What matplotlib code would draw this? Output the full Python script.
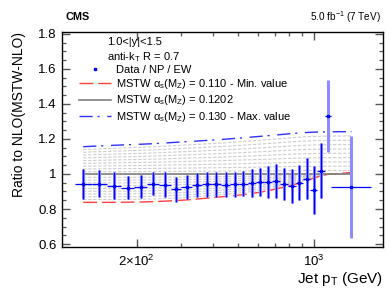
import numpy as np
import matplotlib.pyplot as plt
from matplotlib.lines import Line2D
from matplotlib.ticker import FixedLocator, NullFormatter, FixedFormatter

plt.rcParams['font.family'] = ['Liberation Sans', 'DejaVu Sans']
plt.rcParams['mathtext.fontset'] = 'custom'
plt.rcParams['mathtext.rm'] = 'Liberation Sans'
plt.rcParams['mathtext.it'] = 'Liberation Sans:italic'
plt.rcParams['mathtext.bf'] = 'Liberation Sans:bold'

# jet pT bin edges (GeV)
edges = [114, 133, 153, 174, 196, 220, 245, 272, 300, 330, 362, 395, 430, 468,
         507, 548, 592, 638, 686, 737, 790, 846, 905, 967, 1032, 1101, 1172, 1684]

# data / NP / EW ratio and uncertainties
ratio = [0.945, 0.945, 0.933, 0.922, 0.928, 0.945, 0.939, 0.912, 0.926, 0.935,
         0.941, 0.941, 0.939, 0.941, 0.945, 0.949, 0.952, 0.954, 0.960, 0.943,
         0.931, 0.950, 0.973, 0.909, 1.019, 1.331, 0.926]
err_tot = [0.086, 0.079, 0.077, 0.066, 0.064, 0.067, 0.070, 0.070, 0.067, 0.069,
           0.070, 0.070, 0.070, 0.070, 0.073, 0.078, 0.080, 0.090, 0.095, 0.090,
           0.095, 0.100, 0.118, 0.137, 0.157, 0.205, 0.290]
err_stat = [0.086, 0.079, 0.077, 0.066, 0.064, 0.067, 0.070, 0.070, 0.067, 0.069,
            0.070, 0.070, 0.070, 0.070, 0.073, 0.078, 0.080, 0.090, 0.095, 0.090,
            0.095, 0.100, 0.118, 0.137, 0.157, 0.0, 0.0]

# theory ratios to MSTW central (alpha_s = 0.1202)
th_min = [0.838, 0.838, 0.838, 0.839, 0.840, 0.842, 0.845, 0.848, 0.852, 0.857,
          0.862, 0.867, 0.872, 0.877, 0.882, 0.889, 0.896, 0.905, 0.915, 0.925,
          0.936, 0.948, 0.962, 0.976, 0.990, 0.998, 1.008]
th_max = [1.156, 1.160, 1.164, 1.167, 1.170, 1.173, 1.177, 1.181, 1.185, 1.188,
          1.192, 1.195, 1.199, 1.203, 1.207, 1.211, 1.215, 1.219, 1.223, 1.227,
          1.231, 1.234, 1.237, 1.239, 1.240, 1.241, 1.242]
alpha_min, alpha_cen, alpha_max = 0.110, 0.1202, 0.130
alpha_scan = [0.111, 0.112, 0.113, 0.114, 0.115, 0.116, 0.117, 0.118, 0.119, 0.120,
              0.121, 0.122, 0.123, 0.124, 0.125, 0.126, 0.127, 0.128, 0.129]

edges = np.array(edges, dtype=float)
centers = np.sqrt(edges[:-1] * edges[1:])
ratio = np.array(ratio)
th_min = np.array(th_min)
th_max = np.array(th_max)
xerr = [centers - edges[:-1], edges[1:] - centers]

fig = plt.figure(figsize=(3.9, 3.02), dpi=100)
ax = fig.add_axes([62 / 390, 55 / 302, 321 / 390, 215 / 302])

# intermediate alpha_s curves
for a in alpha_scan:
    if a < alpha_cen:
        y = th_min + (1 - th_min) * (a - alpha_min) / (alpha_cen - alpha_min)
    else:
        y = 1 + (th_max - 1) * (a - alpha_cen) / (alpha_max - alpha_cen)
    ax.plot(centers, y, color='#cccccc', lw=0.8, dashes=(3, 1.5), zorder=1)

ax.plot(centers, th_min, color='#ff4040', lw=1.0, dashes=(10, 3.5), zorder=2)
ax.plot(centers, np.ones_like(centers), color='#808080', lw=1.2, zorder=2)
ax.plot(centers, th_max, color='#3030ff', lw=1.0, dashes=(9.5, 3.5, 1.5, 5.5), zorder=2)

# data
ax.errorbar(centers, ratio, yerr=err_tot, fmt='none', ecolor='#8c8cff',
            elinewidth=2.2, capsize=0, zorder=3)
ax.errorbar(centers, ratio, yerr=err_stat, xerr=xerr, fmt='s', color='#0000ff',
            ms=1.6, elinewidth=0.9, capsize=0, zorder=4)

ax.set_xscale('log')
ax.set_xlim(101.6, 1871)
ax.set_ylim(0.583, 1.811)

ax.xaxis.set_major_locator(FixedLocator([200, 1000]))
ax.xaxis.set_major_formatter(FixedFormatter([r'$2{\times}10^{2}$', r'$10^{3}$']))
ax.xaxis.set_minor_locator(FixedLocator([300, 400, 500, 600, 700, 800, 900]))
ax.xaxis.set_minor_formatter(NullFormatter())
ax.set_yticks([0.6, 0.8, 1.0, 1.2, 1.4, 1.6, 1.8])
ax.set_yticklabels(['0.6', '0.8', '1', '1.2', '1.4', '1.6', '1.8'])
ax.yaxis.set_minor_locator(FixedLocator(np.arange(0.6, 1.81, 0.05)))

ax.tick_params(which='both', direction='in', top=True, right=True, color='#555555')
ax.tick_params(which='major', length=6, width=1.0, labelsize=9.5, pad=4)
ax.tick_params(which='minor', length=3, width=0.9)
ax.tick_params(axis='x', which='major', pad=5)
for s in ax.spines.values():
    s.set_linewidth(1.0)

ax.set_ylabel('Ratio to NLO(MSTW-NLO)', fontsize=10, loc='top')
ax.yaxis.set_label_coords(-0.112, 1.0)
ax.set_xlabel(r'Jet p$_{\mathrm{T}}$ (GeV)', fontsize=11, loc='right')
ax.xaxis.set_label_coords(1.0, -0.105)

fig.text(65 / 390, 1 - 17 / 302, 'CMS', fontsize=7.8, weight='bold', va='center')
fig.text(381 / 390, 1 - 17 / 302, r'5.0 fb$^{-1}$ (7 TeV)', fontsize=7.2,
         va='center', ha='right')

ax.text(107 / 390, 1 - 42 / 302, '1.0<|y|<1.5', transform=fig.transFigure,
        fontsize=8, va='center')
ax.text(107 / 390, 1 - 57 / 302, r'anti-k$_{\mathrm{T}}$ R = 0.7',
        transform=fig.transFigure, fontsize=8, va='center')

handles = [
    Line2D([], [], ls='none', marker='s', ms=1.6, color='#0000ff'),
    Line2D([], [], color='#ff4040', lw=1.0, dashes=(10, 3.5)),
    Line2D([], [], color='#808080', lw=1.2),
    Line2D([], [], color='#3030ff', lw=1.0, dashes=(9.5, 3.5, 1.5, 5.5)),
]
labels = ['Data / NP / EW',
          r'MSTW α$_{\mathrm{s}}$(M$_{\mathrm{Z}}$) = 0.110 - Min. value',
          r'MSTW α$_{\mathrm{s}}$(M$_{\mathrm{Z}}$) = 0.1202',
          r'MSTW α$_{\mathrm{s}}$(M$_{\mathrm{Z}}$) = 0.130 - Max. value']
fig.legend(handles, labels, loc='upper left', bbox_to_anchor=(79 / 390, 1 - 65 / 302),
           frameon=False, fontsize=8, handlelength=2.9, handletextpad=0.4,
           labelspacing=0.2, borderpad=0, borderaxespad=0)

fig.savefig('out.png', dpi=100)
